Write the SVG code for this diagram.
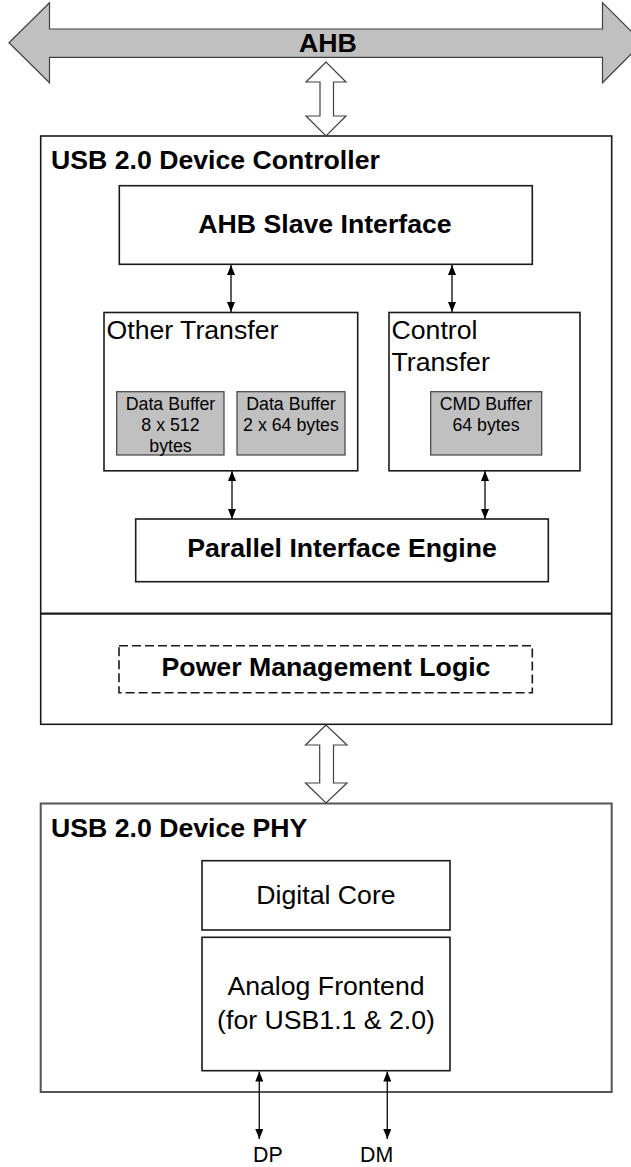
<svg xmlns="http://www.w3.org/2000/svg" width="631" height="1167" viewBox="0 0 631 1167">
  <style>
    .box { fill: #ffffff; stroke: #1a1a1a; stroke-width: 1.6; }
    .outer { fill: #ffffff; stroke: #555555; stroke-width: 2; }
    .buf { fill: #c0c0c0; stroke: #404040; stroke-width: 1.2; }
    .dash { fill: none; stroke: #1a1a1a; stroke-width: 1.6; stroke-dasharray: 9 4; }
    .bus { fill: #c0c0c0; stroke: #404040; stroke-width: 1.2; }
    .fat { fill: #ffffff; stroke: #404040; stroke-width: 1.2; }
    .wire { stroke: #1a1a1a; stroke-width: 1.4; fill: none; marker-start: url(#tip); marker-end: url(#tip); }
    .t { font-family: "Liberation Sans", Arial, sans-serif; fill: #000000; }
    .b26 { font-size: 26.67px; font-weight: bold; }
    .n26 { font-size: 26.67px; }
    .n18 { font-size: 17.78px; }
    .n21 { font-size: 21.33px; }
    .mid { text-anchor: middle; }
  </style>
  <defs>
    <marker id="tip" viewBox="0 0 10 8" refX="10" refY="4" markerWidth="10" markerHeight="8" markerUnits="userSpaceOnUse" orient="auto-start-reverse">
      <path d="M0,0 L10,4 L0,8 Z" fill="#000000"/>
    </marker>
  </defs>

  <!-- system bus -->
  <g id="ahb-bus">
    <polygon class="bus" points="9,42.7 49.5,2.7 49.5,29 602.5,29 602.5,2.7 642.5,42.7 602.5,82.7 602.5,57.3 49.5,57.3 49.5,82.7"/>
    <text class="t b26 mid" x="328" y="52">AHB</text>
  </g>

  <!-- device controller -->
  <g id="controller">
    <rect class="box" x="40.7" y="136" width="571" height="588.3"/>
    <line x1="40.7" y1="613.7" x2="611.7" y2="613.7" stroke="#1a1a1a" stroke-width="2.2"/>
    <text class="t b26" x="51" y="169">USB 2.0 Device Controller</text>
  </g>

  <g id="ahb-slave">
    <rect class="box" x="119.3" y="185.7" width="413" height="78.6"/>
    <text class="t b26 mid" x="325" y="233">AHB Slave Interface</text>
  </g>

  <g id="other-transfer">
    <rect class="box" x="104" y="312.5" width="253.7" height="158.3"/>
    <text class="t n26" x="106.5" y="339">Other Transfer</text>
  </g>

  <g id="buffer-8x512">
    <rect class="buf" x="116.7" y="391.7" width="107.3" height="63.3"/>
    <text class="t n18 mid" x="170.5" y="410">Data Buffer</text>
    <text class="t n18 mid" x="170.5" y="430.7">8 x 512</text>
    <text class="t n18 mid" x="170.5" y="451.5">bytes</text>
  </g>

  <g id="buffer-2x64">
    <rect class="buf" x="237" y="391.7" width="108" height="63.3"/>
    <text class="t n18 mid" x="291" y="410">Data Buffer</text>
    <text class="t n18 mid" x="291" y="430.7">2 x 64 bytes</text>
  </g>

  <g id="control-transfer">
    <rect class="box" x="389" y="312.5" width="191" height="158.3"/>
    <text class="t n26" x="391.5" y="339">Control</text>
    <text class="t n26" x="391.5" y="371">Transfer</text>
  </g>

  <g id="cmd-buffer">
    <rect class="buf" x="430.7" y="391.7" width="111" height="63.3"/>
    <text class="t n18 mid" x="486" y="410">CMD Buffer</text>
    <text class="t n18 mid" x="486" y="430.7">64 bytes</text>
  </g>

  <g id="pie">
    <rect class="box" x="135.7" y="519" width="412.6" height="62.7"/>
    <text class="t b26 mid" x="342" y="557">Parallel Interface Engine</text>
  </g>

  <g id="power-mgmt">
    <rect class="dash" x="119" y="645.7" width="413.3" height="47"/>
    <text class="t b26 mid" x="326" y="676">Power Management Logic</text>
  </g>

  <!-- device PHY -->
  <g id="phy">
    <rect class="outer" x="40.7" y="803.5" width="571" height="288.5"/>
    <text class="t b26" x="51" y="836.7">USB 2.0 Device PHY</text>
  </g>

  <g id="digital-core">
    <rect class="box" x="202" y="860.7" width="248" height="69.3"/>
    <text class="t n26 mid" x="326" y="904">Digital Core</text>
  </g>

  <g id="analog-frontend">
    <rect class="box" x="202" y="937.3" width="248" height="133.4"/>
    <text class="t n26 mid" x="326" y="995">Analog Frontend</text>
    <text class="t n26 mid" x="326" y="1029">(for USB1.1 &amp; 2.0)</text>
  </g>

  <g id="pin-dp">
    <text class="t n21" x="253" y="1161.7">DP</text>
  </g>
  <g id="pin-dm">
    <text class="t n21" x="360" y="1161.7">DM</text>
  </g>

  <!-- connectors -->
  <g id="connectors">
    <polygon class="fat" points="326,62 306,82 320,82 320,116 306,116 326,136 346,116 333.5,116 333.5,82 346,82"/>
    <polygon class="fat" points="326,725 305.5,745 319.7,745 319.7,783 305.5,783 326,803 347,783 333.5,783 333.5,745 347,745"/>
    <line class="wire" x1="231" y1="265" x2="231" y2="312"/>
    <line class="wire" x1="452" y1="265" x2="452" y2="312"/>
    <line class="wire" x1="232" y1="471" x2="232" y2="519"/>
    <line class="wire" x1="485" y1="471" x2="485" y2="519"/>
    <line class="wire" x1="259.3" y1="1071.5" x2="259.3" y2="1139"/>
    <line class="wire" x1="387.3" y1="1071.5" x2="387.3" y2="1139"/>
  </g>
</svg>
